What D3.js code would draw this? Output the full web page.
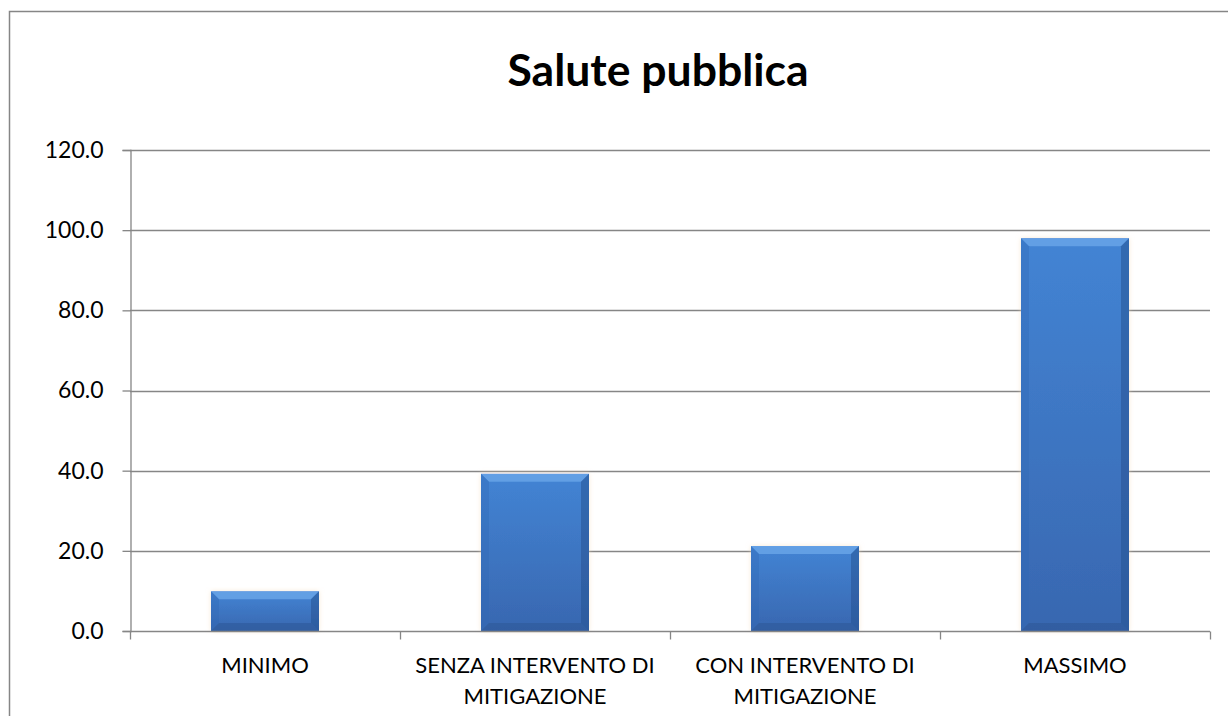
<!DOCTYPE html>
<html>
<head>
<meta charset="utf-8">
<script src="https://cdn.jsdelivr.net/npm/d3@7"></script>
<style>
  html, body { margin: 0; padding: 0; background: #fff; }
  svg { display: block; }
</style>
</head>
<body>
<svg id="chart" width="1228" height="716"></svg>
<script>
// Chart data
const title = "Salute pubblica";
const categories = ["MINIMO", "SENZA INTERVENTO DI MITIGAZIONE", "CON INTERVENTO DI MITIGAZIONE", "MASSIMO"];
const values = [9.9, 39.2, 21.2, 98.0];
const yTicks = [0, 20, 40, 60, 80, 100, 120];

const W = 1228, H = 716;
const margin = { left: 130, top: 150, right: 18, bottom: 85 };
const FONT = "Lato, 'Open Sans', sans-serif";
const GRID = "#868686";
const LABEL_SIZE = 22;

const svg = d3.select("#chart");

// Bevelled bar shading
const defs = svg.append("defs");
const grad = defs.append("linearGradient").attr("id", "barFill")
  .attr("x1", 0).attr("y1", 0).attr("x2", 0).attr("y2", 1);
grad.append("stop").attr("offset", "0%").attr("stop-color", "#4384d4");
grad.append("stop").attr("offset", "100%").attr("stop-color", "#3867b0");

const glow = defs.append("filter").attr("id", "glow")
  .attr("x", "-10%").attr("y", "-10%").attr("width", "120%").attr("height", "120%");
glow.append("feGaussianBlur").attr("in", "SourceAlpha").attr("stdDeviation", 2.5).attr("result", "b");
glow.append("feFlood").attr("flood-color", "#f3d9b8").attr("flood-opacity", 0.6);
glow.append("feComposite").attr("in2", "b").attr("operator", "in").attr("result", "s");
const merge = glow.append("feMerge");
merge.append("feMergeNode").attr("in", "s");
merge.append("feMergeNode").attr("in", "SourceGraphic");

// Outer chart frame (extends past the bottom/right edges)
svg.append("rect")
  .attr("x", 9.5).attr("y", 11.5)
  .attr("width", W + 20).attr("height", H + 20)
  .attr("fill", "none").attr("stroke", GRID).attr("stroke-width", 1.5);

// Title
svg.append("text")
  .attr("x", 658).attr("y", 86)
  .attr("text-anchor", "middle")
  .attr("font-family", FONT).attr("font-weight", "bold")
  .attr("font-size", 44.5).attr("fill", "#000")
  .text(title);

const x = d3.scaleBand().domain(categories)
  .range([margin.left, W - margin.right]).paddingInner(0.6).paddingOuter(0.3);
const y = d3.scaleLinear().domain([0, 120]).range([H - margin.bottom, margin.top]);

const plotL = margin.left, plotR = W - margin.right;

// Horizontal gridlines
svg.append("g").selectAll("line").data(yTicks.filter(d => d > 0)).join("line")
  .attr("x1", plotL).attr("x2", plotR)
  .attr("y1", d => Math.round(y(d)) + 0.5).attr("y2", d => Math.round(y(d)) + 0.5)
  .attr("stroke", GRID).attr("stroke-width", 1.3);

// Y axis
const yAxis = svg.append("g")
  .attr("transform", `translate(${plotL + 0.5},0)`)
  .call(d3.axisLeft(y).tickValues(yTicks).tickFormat(d3.format(".1f")).tickSize(8).tickPadding(19));
yAxis.select(".domain").attr("stroke", GRID).attr("stroke-width", 1.3);
yAxis.selectAll(".tick line").attr("stroke", GRID).attr("stroke-width", 1.3);
yAxis.selectAll(".tick text")
  .attr("font-family", FONT).attr("font-size", 23).attr("fill", "#000");

// Bars
const bars = svg.append("g").selectAll("g").data(values).join("g")
  .attr("filter", "url(#glow)");
bars.each(function (v, i) {
  const g = d3.select(this);
  const x0 = x(categories[i]), bw = x.bandwidth();
  const y0 = y(v), y1 = y(0);
  const h = y1 - y0;
  const b = Math.min(8, h / 3);
  g.append("rect").attr("x", x0).attr("y", y0).attr("width", bw).attr("height", h)
    .attr("fill", "url(#barFill)");
  // top bevel
  g.append("path")
    .attr("d", `M${x0},${y0}L${x0 + bw},${y0}L${x0 + bw - b},${y0 + b}L${x0 + b},${y0 + b}Z`)
    .attr("fill", "#6aa6e8").attr("opacity", 0.8);
  // left bevel
  g.append("path")
    .attr("d", `M${x0},${y0}L${x0 + b},${y0 + b}L${x0 + b},${y1 - b}L${x0},${y1}Z`)
    .attr("fill", "#2f66b4").attr("opacity", 0.35);
  // right bevel
  g.append("path")
    .attr("d", `M${x0 + bw},${y0}L${x0 + bw - b},${y0 + b}L${x0 + bw - b},${y1 - b}L${x0 + bw},${y1}Z`)
    .attr("fill", "#24508e").attr("opacity", 0.5);
  // bottom bevel
  g.append("path")
    .attr("d", `M${x0},${y1}L${x0 + b},${y1 - b}L${x0 + bw - b},${y1 - b}L${x0 + bw},${y1}Z`)
    .attr("fill", "#264f8c").attr("opacity", 0.4);
});

// X axis
const xAxisG = svg.append("g").attr("transform", `translate(0,${Math.round(y(0)) + 0.5})`);
xAxisG.append("line").attr("x1", plotL).attr("x2", plotR)
  .attr("stroke", GRID).attr("stroke-width", 1.3);
const boundaries = d3.range(categories.length + 1).map(i => plotL + i * (plotR - plotL) / categories.length);
xAxisG.selectAll("line.tk").data(boundaries).join("line").attr("class", "tk")
  .attr("x1", d => Math.round(d) + 0.5).attr("x2", d => Math.round(d) + 0.5)
  .attr("y1", 0).attr("y2", 8)
  .attr("stroke", GRID).attr("stroke-width", 1.3);

// Category labels, wrapped to the band width
const maxW = (plotR - plotL) / categories.length - 10;
const measurer = svg.append("text").attr("font-family", FONT).attr("font-size", LABEL_SIZE).attr("visibility", "hidden");
function wrap(str) {
  const words = str.split(" "), lines = [];
  let cur = "";
  words.forEach(w => {
    const t = cur ? cur + " " + w : w;
    measurer.text(t);
    if (measurer.node().getComputedTextLength() > maxW && cur) { lines.push(cur); cur = w; }
    else cur = t;
  });
  lines.push(cur);
  return lines;
}
categories.forEach((c, i) => {
  const cx = x(c) + x.bandwidth() / 2;
  const t = svg.append("text").attr("text-anchor", "middle")
    .attr("font-family", FONT).attr("font-size", LABEL_SIZE).attr("fill", "#000");
  wrap(c).forEach((ln, k) => {
    t.append("tspan").attr("x", cx).attr("y", 673 + k * 31).text(ln);
  });
});
measurer.remove();
</script>
</body>
</html>
